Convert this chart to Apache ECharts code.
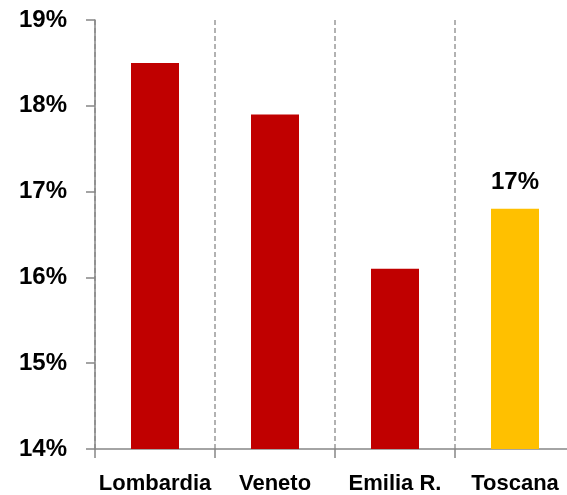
<!DOCTYPE html>
<html>
<head>
<meta charset="utf-8">
<script src="https://cdn.jsdelivr.net/npm/echarts@6/dist/echarts.min.js"></script>
<style>
  html, body { margin: 0; padding: 0; background: #fff; overflow: hidden; }
  #chart { width: 575px; height: 495px; }
</style>
</head>
<body>
<div id="chart"></div>
<script>
var regions = ['Lombardia', 'Veneto', 'Emilia R.', 'Toscana'];
var shares = [18.5, 17.9, 16.1, 16.8];
var yTicks = [14, 15, 16, 17, 18, 19];
var labelled = 'Toscana';

// the original plot runs a few pixels past the right edge, so the div is wider than the window
var chart = echarts.init(document.getElementById('chart'));
var fontFam = '"Liberation Sans", Arial, sans-serif';

var barData = [];
for (var i = 0; i < regions.length; i++) {
    var hl = regions[i] == labelled;
    barData.push({
        value: shares[i],
        itemStyle: { color: hl ? '#FFC000' : '#C00000' },
        label: { show: hl }
    });
}

var option = {
    animation: false,
    grid: { left: 95, top: 20, right: 0, bottom: 45 },
    xAxis: {
        type: 'category',
        data: regions,
        axisLine: { lineStyle: { color: '#868686', width: 1.5 } },
        axisTick: { show: true, interval: 0, length: 9, lineStyle: { color: '#868686', width: 1.5 } },
        axisLabel: { interval: 0, margin: 24, color: '#000', fontWeight: 'bold', fontSize: 22, fontFamily: fontFam },
        splitLine: { show: true, interval: 0, lineStyle: { color: '#999', type: [5, 3], width: 1.5 } }
    },
    yAxis: {
        type: 'value',
        min: yTicks[0],
        max: yTicks[yTicks.length - 1],
        interval: 1,
        axisLine: { show: true, lineStyle: { color: '#868686', width: 1.5 } },
        axisTick: { show: true, length: 9, lineStyle: { color: '#868686', width: 1.5 } },
        axisLabel: { margin: 28, color: '#000', fontWeight: 'bold', fontSize: 24, fontFamily: fontFam, formatter: '{value}%' },
        splitLine: { show: false }
    },
    series: [{
        type: 'bar',
        data: barData,
        barWidth: 48,
        label: {
            position: 'top',
            distance: 14,
            color: '#000',
            fontWeight: 'bold',
            fontSize: 24,
            fontFamily: fontFam,
            formatter: function (p) { return Math.round(p.value) + '%'; }
        }
    }]
};
chart.setOption(option);
</script>
</body>
</html>
